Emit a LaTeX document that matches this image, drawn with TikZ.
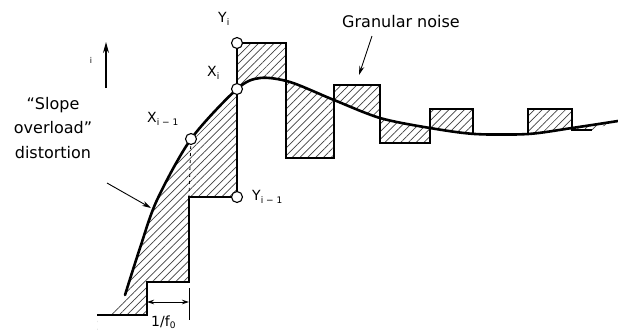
\documentclass[tikz,border=0pt]{standalone}
\usepackage{fontspec}
\setmainfont{DejaVu Sans}
\usetikzlibrary{arrows.meta,patterns.meta}
\newcommand\sbs[1]{\raisebox{-3.5pt}{\fontsize{9}{9}\selectfont #1}}
\newcommand\sbl[1]{\raisebox{-2.5pt}{\fontsize{9}{9}\selectfont #1}}
\begin{document}
\begin{tikzpicture}[x=1pt,y=-1pt,
  stair/.style={line width=1.2pt, line join=miter},
  curveline/.style={line width=2.6pt, line cap=round, line join=round},
  dot/.style={circle,draw,fill=white,line width=1.1pt,inner sep=0pt,minimum size=11pt},
  lbl/.style={font=\fontsize{14}{16}\selectfont, inner sep=0pt},
  txt/.style={font=\fontsize{16}{24.5}\selectfont, inner sep=0pt},
  tip/.style={-{Stealth[length=9pt,width=5pt]}, line width=0.9pt},
  hatch/.style={pattern={Lines[angle=45,distance=5.5pt,line width=0.7pt]}, pattern color=black!75}
]
\useasboundingbox (0,0) rectangle (618,333);
% sample points
\coordinate (Yi) at (237,43);
\coordinate (Xi) at (237,89);
\coordinate (Xim1) at (191,139);
\coordinate (Yim1) at (237,197);
% hatched error regions (symmetric difference of curve and staircase)
\fill[hatch, even odd rule]
  (97,315) -- (108,315) -- plot[smooth] coordinates {(125,295) (140,248) (157,200) (191,139) (237,89) (260,78) (290,82) (334,100) (380,118) (430,128) (475,134) (528,134) (572,128) (618,121)} -- (618,400) -- (97,400) -- cycle
  (97,315) -- (147,315) -- (147,282) -- (189,282) -- (189,197) -- (237,197) -- (237,43) -- (286,43) -- (286,158) -- (334,158) -- (334,85) -- (380,85) -- (380,143) -- (430,143) -- (430,109) -- (473,109) -- (473,134) -- (528,134) -- (528,109) -- (572,109) -- (572,130) -- (592,130) -- (618,121) -- (618,400) -- (97,400) -- cycle;
% staircase
\draw[stair] (97,315) -- (147,315) -- (147,282) -- (189,282) -- (189,197) -- (Yim1) -- (Yi) -- (286,43) -- (286,158) -- (334,158) -- (334,85) -- (380,85) -- (380,143) -- (430,143) -- (430,109) -- (473,109) -- (473,134) -- (528,134) -- (528,109) -- (572,109) -- (572,130) -- (592,130);
% signal curve
\draw[curveline] plot[smooth] coordinates {(125,295) (140,248) (157,200) (191,139) (237,89) (260,78) (290,82) (334,100) (380,118) (430,128) (475,134) (528,134) (572,128) (618,121)};
% dashed
\coordinate (dashend) at (189,196);
\draw[line width=0.9pt, dash pattern=on 3pt off 4pt] (Xim1) -- (dashend);
% sample circles
\node[dot] (YiDot) at (Yi) {};
\node[dot] (XiDot) at (Xi) {};
\node[dot] (Xim1Dot) at (Xim1) {};
\node[dot] (Yim1Dot) at (Yim1) {};
% labels
\node[lbl, anchor=base west] (YiLbl) at (218,22) {Y\sbs{i}};
\node[lbl, anchor=base west] (XiLbl) at (207,76) {X\sbs{i}};
\node[lbl, anchor=base west] (Xim1Lbl) at (147,122) {X\sbs{i − 1}};
\node[lbl, anchor=base west] (Yim1Lbl) at (252,200) {Y\sbs{i − 1}};
\node[lbl, anchor=base west] (fLbl) at (151,326) {1/f\sbl{0}};
% up arrow
\coordinate (upA) at (106,88);
\coordinate (upB) at (106,42);
\draw[line width=1.3pt, -{Stealth[length=11pt,width=6pt]}] (upA) -- (upB);
\node[font=\fontsize{8}{8}\selectfont, inner sep=0pt] (iLbl) at (91,60) {i};
% dimension
\coordinate (dimA) at (147,302);
\coordinate (dimB) at (189,302);
\coordinate (extA) at (189,288);
\coordinate (extB) at (189,320);
\draw[line width=0.9pt, {Stealth[length=7pt,width=4.5pt]}-{Stealth[length=7pt,width=4.5pt]}] (dimA) -- (dimB);
\draw[line width=0.9pt] (extA) -- (extB);
% texts
\node[txt, anchor=base] (gn) at (401,27) {Granular noise};
\coordinate (gnA) at (372,36);
\coordinate (gnB) at (359,75);
\draw[tip] (gnA) -- (gnB);
\node[txt, align=center, anchor=base] (slope) at (53,158) {``Slope\\overload''\\distortion};
\coordinate (slA) at (107,183);
\coordinate (slB) at (151,208);
\draw[tip] (slA) -- (slB);
\end{tikzpicture}
\end{document}
